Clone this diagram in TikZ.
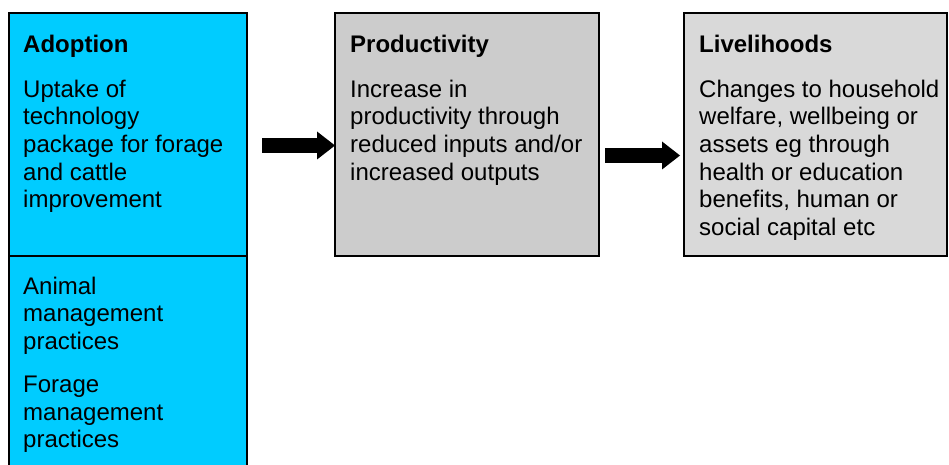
\documentclass[tikz,border=0pt]{standalone}
\usepackage{fontspec}
\setmainfont{Liberation Sans}
\usetikzlibrary{arrows.meta,calc}
\definecolor{adoptblue}{HTML}{00CCFF}
\definecolor{prodgray}{HTML}{CCCCCC}
\definecolor{livegray}{HTML}{D9D9D9}
\tikzset{
  box/.style={draw, line width=2pt, anchor=north west, inner sep=0pt, outer sep=0pt},
  txt/.style={anchor=north west, align=left, inner sep=0pt, font=\fontsize{24}{27.6}\selectfont},
  bigarrow/.style={line width=15pt, -{Triangle[length=18pt,width=28pt,line width=0pt]}}
}
\begin{document}
\begin{tikzpicture}[x=1pt,y=1pt]
  \clip (0,0) rectangle (949,464); % page size
  \node[box, fill=adoptblue, minimum width=238pt, minimum height=243pt] (adopt) at (9,451) {}; % adoption
  \node[box, fill=adoptblue, minimum width=238pt, minimum height=215pt] (prax) at (9,208) {}; % practices, runs off the page
  \node[box, fill=prodgray, minimum width=264pt, minimum height=243pt] (prod) at (335,451) {}; % productivity
  \node[box, fill=livegray, minimum width=263pt, minimum height=243pt] (live) at (684,451) {}; % livelihoods

  \node[txt] (adopttxt) at (23,429.3) {\textbf{Adoption}\\[17.4pt]Uptake of\\technology\\package for forage\\and cattle\\improvement};
  \node[txt] (praxtxt) at (23,187.2) {Animal\\management\\practices\\[15.4pt]Forage\\management\\practices};
  \node[txt] (prodtxt) at (350,429.3) {\textbf{Productivity}\\[17.4pt]Increase in\\productivity through\\reduced inputs and/or\\increased outputs};
  \node[txt] (livetxt) at (699,429.3) {\textbf{Livelihoods}\\[17.4pt]Changes to household\\welfare, wellbeing or\\assets eg through\\health or education\\benefits, human or\\social capital etc};

  \coordinate (a1) at (262,318.5); % start of first arrow
  \coordinate (a2) at (605,308.5); % start of second arrow
  \draw[bigarrow] (a1) -- (a1 -| prod.west);
  \draw[bigarrow] (a2) -- ($(a2 -| live.west)+(-4,0)$);
\end{tikzpicture}
\end{document}
